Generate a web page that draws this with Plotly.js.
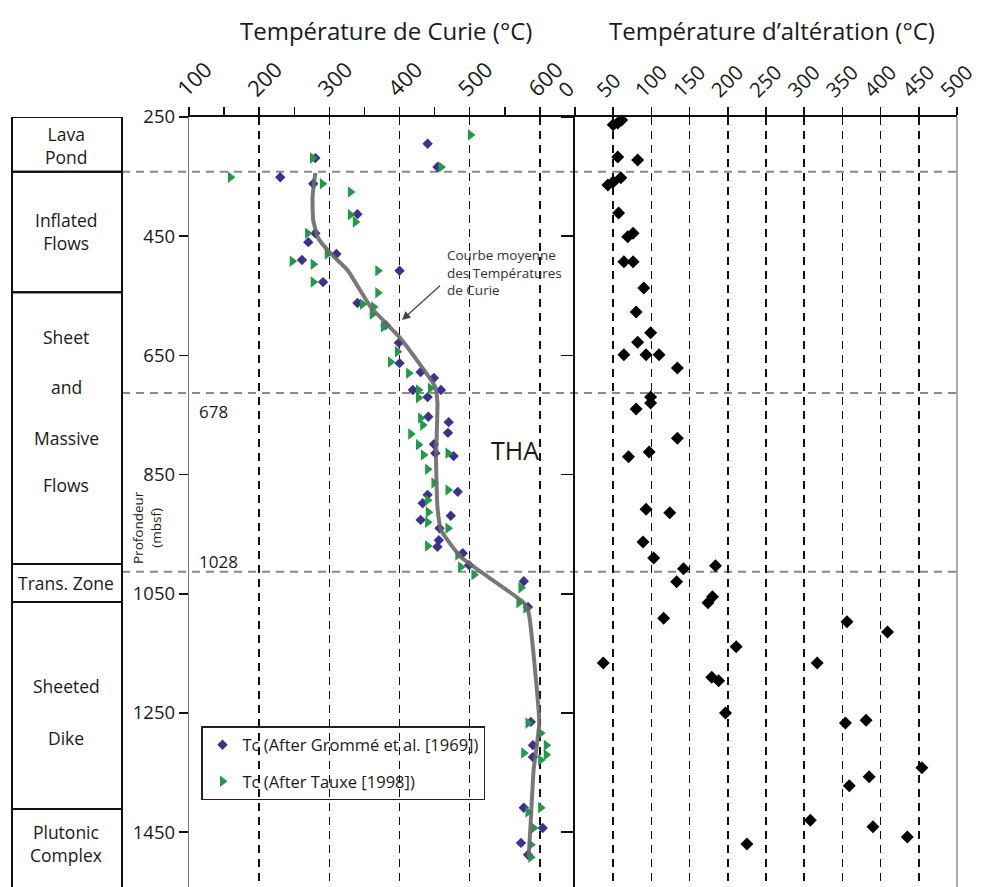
<!DOCTYPE html>
<html>
<head>
<meta charset="utf-8">
<script src="https://cdn.plot.ly/plotly-3.0.1.min.js"></script>
<style>html,body{margin:0;padding:0;background:#fff}#chart{width:983px;height:887px}</style>
</head>
<body>
<div id="chart"></div>
<script>
// ---------- DATA ----------
// Curie temperature, Grommé et al. (1969) — blue diamonds
const grommeTc    = [440,280,454,230,277,340,280,270,310,261,400,291,340,380,399,400,430,449,419,459,440,441,470,469,449,451,477,483,440,433,473,430,457,456,454,490,499,577,583,587,590,590,577,604,573,583];
const grommeDepth = [295,319,334,351,362,413,445,460,480,490,508,527,562,599,629,663,678,688,708,708,720,753,762,780,799,814,819,879,884,898,919,926,940,960,971,982,1002,1029,1072,1265,1304,1324,1409,1443,1468,1488];
// Curie temperature, Tauxe (1998) — green triangles
const tauxeTc    = [501,276,459,159,290,330,330,337,269,297,247,277,369,277,369,347,363,361,377,397,387,413,444,427,427,430,433,416,427,434,469,440,449,469,440,441,440,469,440,483,487,506,573,570,580,583,601,609,577,609,601,601,583,591,587,587];
const tauxeDepth = [280,319,334,351,362,376,414,426,445,480,492,497,508,527,545,564,569,581,602,644,661,680,705,708,721,755,767,782,800,817,814,841,864,876,893,913,930,940,970,985,1005,1018,1040,1065,1074,1267,1284,1304,1317,1320,1329,1409,1416,1443,1471,1492];
// Mean Curie temperature curve
const meanTc    = [280,276,277,284,301,326,359,401,451,454,452,454,459,487,577,584,599,591,587,584];
const meanDepth = [344,384,423,453,478,507,569,621,703,730,825,904,943,988,1065,1082,1267,1346,1430,1492];
// Alteration temperature — black diamonds
const altT     = [50,56,61,56,82,43,50,60,57,69,76,64,76,90,80,99,82,64,93,110,134,99,99,80,134,70,97,93,124,89,103,142,184,133,180,174,116,356,409,211,37,317,179,188,197,354,381,454,385,359,308,390,435,225];
const altDepth = [263,260,255,317,322,364,359,352,411,451,445,493,493,537,577,612,628,649,649,649,671,720,730,740,789,820,812,908,914,963,990,1008,1003,1030,1055,1065,1091,1097,1114,1139,1166,1166,1190,1196,1250,1267,1262,1342,1357,1372,1430,1441,1458,1470];
// Axes ticks
const depthTicks = [250,450,650,850,1050,1250,1450];
const curieTicks = [100,200,300,400,500,600];
const altTicks   = [0,50,100,150,200,250,300,350,400,450,500];
// Lithology column (depth limits, mbsf)
const unitNames  = ['Lava Pond','Inflated Flows','Sheet and Massive Flows','Trans. Zone','Sheeted Dike','Plutonic Complex'];
const unitTop    = [250,342,544,1000,1064,1411];
const unitBottom = [342,544,1000,1064,1411,1700];
// Boundaries (dashed horizontal lines)
const boundaryDepths = [342,713,1013];
const depthMarks = ['678','1028'];

// ---------- LAYOUT HELPERS ----------
const W = 983, H = 887, MT = 117;
const px = x => x / W;
const py = y => (H - y) / (H - MT);
const FONT = 'Open Sans, Noto Sans, sans-serif';
const INK = '#1a1a1a';

const traces = [
  {x: grommeTc, y: grommeDepth, xaxis:'x', yaxis:'y', type:'scatter', mode:'markers',
   name:'Tc (After Grommé et al. [1969])', legendgroup:'g1',
   marker:{symbol:'diamond', size:8, color:'#3b3190'}},
  {x: tauxeTc, y: tauxeDepth, xaxis:'x', yaxis:'y', type:'scatter', mode:'markers',
   name:'Tc (After Tauxe [1998])', legendgroup:'g2',
   marker:{symbol:'triangle-right', size:10, color:'#1f9b48'}},
  {x: meanTc, y: meanDepth, xaxis:'x', yaxis:'y', type:'scatter', mode:'lines',
   name:'Courbe moyenne', showlegend:false,
   line:{color:'rgba(105,105,105,0.9)', width:4, shape:'spline', smoothing:0.4}},
  {x: altT, y: altDepth, xaxis:'x2', yaxis:'y2', type:'scatter', mode:'markers',
   name:'Température d’altération', showlegend:false,
   marker:{symbol:'diamond', size:10, color:'#000'}}
];

const shapes = [];
for (let i = 0; i < unitNames.length; i++) {
  shapes.push({type:'rect', xref:'paper', yref:'y', x0:px(12), x1:px(122), y0:unitTop[i], y1:unitBottom[i],
    line:{color:'#111', width:2}, fillcolor:'rgba(0,0,0,0)', layer:'above'});
}
boundaryDepths.forEach(d => shapes.push({type:'line', xref:'paper', yref:'y', x0:px(122), x1:px(957), y0:d, y1:d,
  line:{color:'#8a8a8a', width:2, dash:'8px,6px'}, layer:'below'}));
shapes.push({type:'line', xref:'paper', yref:'paper', x0:px(957), x1:px(957), y0:0, y1:1,
  line:{color:'#777', width:1.2}});

const unitLabelPos = [
  {t:'Lava<br>Pond', y:145}, {t:'Inflated<br>Flows', y:231},
  {t:'Sheet', y:337}, {t:'and', y:387}, {t:'Massive', y:438}, {t:'Flows', y:485},
  {t:'Trans. Zone', y:583}, {t:'Sheeted', y:686}, {t:'Dike', y:738},
  {t:'Plutonic<br>Complex', y:843}
];
const annotations = unitLabelPos.map(o => ({xref:'paper', yref:'paper', x:px(66), y:py(o.y), text:o.t,
  showarrow:false, xanchor:'center', yanchor:'middle', font:{size:17.5, family:FONT, color:INK}}));

annotations.push(
  {xref:'paper', yref:'paper', x:px(386), y:py(30), text:'Température de Curie (°C)', showarrow:false,
   xanchor:'center', yanchor:'middle', font:{size:24, family:FONT, color:INK}},
  {xref:'paper', yref:'paper', x:px(772), y:py(30), text:'Température d’altération (°C)', showarrow:false,
   xanchor:'center', yanchor:'middle', font:{size:24, family:FONT, color:INK}},
  {xref:'paper', yref:'paper', x:px(515), y:py(450), text:'THA', showarrow:false,
   xanchor:'center', yanchor:'middle', font:{size:25, family:FONT, color:INK}},
  {xref:'paper', yref:'paper', x:px(213), y:py(412), text:depthMarks[0], showarrow:false,
   xanchor:'center', yanchor:'middle', font:{size:17, family:FONT, color:INK}},
  {xref:'paper', yref:'paper', x:px(218), y:py(561), text:depthMarks[1], showarrow:false,
   xanchor:'center', yanchor:'middle', font:{size:17, family:FONT, color:INK}},
  {xref:'paper', yref:'paper', x:px(147), y:py(528), text:'Profondeur<br>(mbsf)', showarrow:false, textangle:-90,
   xanchor:'center', yanchor:'middle', font:{size:13.5, family:FONT, color:INK}},
  {xref:'paper', yref:'paper', x:px(445), y:py(272), text:'Courbe moyenne<br>des Températures<br>de Curie', showarrow:false,
   xanchor:'left', yanchor:'middle', align:'left', font:{size:13.5, family:FONT, color:'#333'}},
  {xref:'paper', yref:'paper', x:px(402), y:py(320), ax:41, ay:-37, axref:'pixel', ayref:'pixel', text:' ',
   showarrow:true, arrowhead:2, arrowsize:1.4, arrowwidth:1.2, arrowcolor:'#444', standoff:0, startstandoff:0}
);

const commonX = {side:'top', ticks:'outside', ticklen:8, tickwidth:1.5, tickcolor:'#111', tickangle:-45,
  ticklabelshift:-10, ticklabelstandoff:-3, ticklabeloverflow:'allow',
  showline:true, linecolor:'#111', linewidth:2, showgrid:true, gridcolor:'#111', gridwidth:1.5,
  griddash:'8px,6px', zeroline:false, automargin:false, tickfont:{size:22, family:FONT, color:INK}, fixedrange:true};

const layout = {
  width:W, height:H, margin:{l:0, r:0, t:MT, b:0, autoexpand:false},
  paper_bgcolor:'#fff', plot_bgcolor:'rgba(0,0,0,0)',
  font:{family:FONT, color:INK},
  showlegend:true,
  legend:{x:px(201), y:py(726), xanchor:'left', yanchor:'top', bgcolor:'rgba(0,0,0,0)',
    bordercolor:'#222', borderwidth:1.5, font:{size:16.5, family:FONT, color:INK},
    tracegroupgap:12, traceorder:'grouped', itemwidth:30},
  xaxis: Object.assign({}, commonX, {domain:[px(189), px(575)], range:[100,650], anchor:'y',
    tickmode:'array', tickvals:curieTicks, ticktext:curieTicks.map(String),
    minor:{tickmode:'linear', tick0:50, dtick:50, ticks:'outside', ticklen:8, tickwidth:1.5, tickcolor:'#111', showgrid:false}}),
  xaxis2: Object.assign({}, commonX, {domain:[px(575), px(957)], range:[0,500], anchor:'y2',
    tickmode:'array', tickvals:altTicks, ticktext:altTicks.map(String),
    ticklabelshift:-15, tickfont:{size:20.5, family:FONT, color:INK}}),
  yaxis:{domain:[0,1], range:[1542,250], anchor:'x', tickmode:'array', tickvals:depthTicks, ticktext:depthTicks.map(String),
    ticks:'outside', ticklen:9, tickwidth:1.5, tickcolor:'#111', showline:true, linecolor:'#777', linewidth:1.2,
    showgrid:false, zeroline:false, automargin:false, tickfont:{size:18.5, family:FONT, color:INK}, fixedrange:true},
  yaxis2:{domain:[0,1], range:[1542,250], matches:'y', anchor:'x2', tickmode:'array', tickvals:depthTicks,
    showticklabels:false, ticks:'outside', ticklen:12, tickwidth:1.5, tickcolor:'#111',
    showline:true, linecolor:'#111', linewidth:2.5, showgrid:false, zeroline:false, automargin:false, fixedrange:true},
  shapes:shapes,
  annotations:annotations
};

Plotly.newPlot('chart', traces, layout, {displayModeBar:false, staticPlot:true});
</script>
</body>
</html>
